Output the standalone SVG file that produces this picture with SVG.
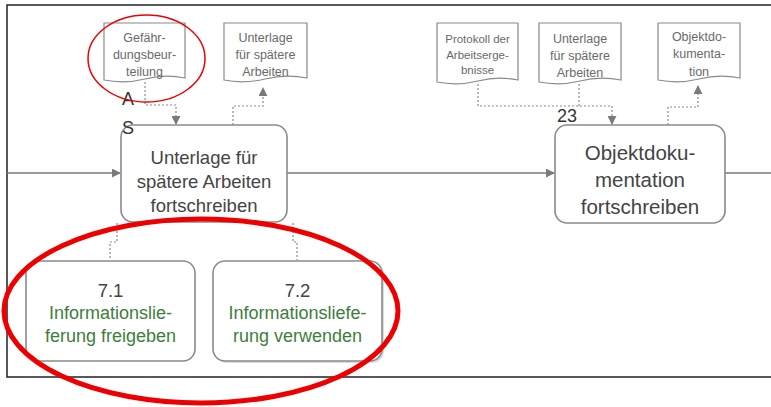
<svg xmlns="http://www.w3.org/2000/svg" width="771" height="407" viewBox="0 0 771 407">
<defs>
<style>
.doc{fill:#fff;stroke:#8a8a8a;stroke-width:1.2}
.dt{font-family:"Liberation Sans",Arial,sans-serif;font-size:12.5px;fill:#6a6a6a;text-anchor:middle}
.box{fill:#fff;stroke:#8a8a8a;stroke-width:1.6}
.bt{font-family:"Liberation Sans",Arial,sans-serif;font-size:18.5px;fill:#444;text-anchor:middle}
.gt{font-family:"Liberation Sans",Arial,sans-serif;font-size:18px;fill:#3d7d3d;text-anchor:middle}
.lbl{font-family:"Liberation Sans",Arial,sans-serif;font-size:18px;fill:#333}
.flow{fill:none;stroke:#7a7a7a;stroke-width:1.5}
.dot{fill:none;stroke:#8a8a8a;stroke-width:1.2;stroke-dasharray:2,2}
</style>
<marker id="ah" viewBox="0 0 10 10" refX="9" refY="5" markerWidth="9" markerHeight="9" markerUnits="userSpaceOnUse" orient="auto"><path d="M0,0 L10,5 L0,10 Z" fill="#7a7a7a"/></marker>
</defs>
<rect x="0" y="0" width="771" height="407" fill="#fff"/>
<path d="M771,5 H7 V377 H771" fill="none" stroke="#222" stroke-width="1.5"/>

<g id="connectors">
<path class="flow" d="M7,173 H120" marker-end="url(#ah)"/>
<path class="flow" d="M287,173 H554" marker-end="url(#ah)"/>
<path class="flow" d="M725,173 H771"/>
<path class="dot" d="M145,82 V105 H176 V124" marker-end="url(#ah)"/>
<path class="dot" d="M233,125 V106 H263 V88" marker-end="url(#ah)"/>
<path class="dot" d="M478,84 V106 H612 V124" marker-end="url(#ah)"/>
<path class="dot" d="M579,84 V106"/>
<path class="dot" d="M668,125 V107 H698 V86" marker-end="url(#ah)"/>
<path class="dot" d="M117,223 V242 H110 V260"/>
<path class="dot" d="M293,223 V242 H297 V260"/>
</g>

<g id="doc1">
<path class="doc" d="M104,23 H185 V78 Q165,74 145,79 T104,80 Z"/>
<text class="dt" x="144.5" y="42">Gefähr-</text>
<text class="dt" x="144.5" y="59">dungsbeur-</text>
<text class="dt" x="144.5" y="76">teilung</text>
</g>
<g id="doc2">
<path class="doc" d="M224,23 H307 V78 Q286,74 265,79 T224,80 Z"/>
<text class="dt" x="265.5" y="42">Unterlage</text>
<text class="dt" x="265.5" y="59">für spätere</text>
<text class="dt" x="265.5" y="76">Arbeiten</text>
</g>
<g id="doc3">
<path class="doc" d="M437,23 H518 V80 Q498,76 478,81 T437,82 Z"/>
<text class="dt" x="477.5" y="43" style="font-size:11.5px">Protokoll der</text>
<text class="dt" x="477.5" y="59" style="font-size:11.5px">Arbeitserge-</text>
<text class="dt" x="477.5" y="74" style="font-size:11.5px">bnisse</text>
</g>
<g id="doc4">
<path class="doc" d="M539,23 H621 V80 Q600,76 580,81 T539,82 Z"/>
<text class="dt" x="580" y="43">Unterlage</text>
<text class="dt" x="580" y="60">für spätere</text>
<text class="dt" x="580" y="77">Arbeiten</text>
</g>
<g id="doc5">
<path class="doc" d="M658,23 H740 V78 Q719,74 699,79 T658,80 Z"/>
<text class="dt" x="699" y="41">Objektdo-</text>
<text class="dt" x="699" y="58">kumenta-</text>
<text class="dt" x="699" y="76">tion</text>
</g>

<g id="box1">
<rect class="box" x="121" y="125" width="166" height="97" rx="12"/>
<text class="bt" x="204" y="164">Unterlage für</text>
<text class="bt" x="204" y="188">spätere Arbeiten</text>
<text class="bt" x="204" y="212">fortschreiben</text>
</g>
<g id="box2">
<rect class="box" x="555" y="125" width="170" height="98" rx="12"/>
<text class="bt" x="640" y="160" style="font-size:20.5px">Objektdoku-</text>
<text class="bt" x="640" y="187" style="font-size:20.5px">mentation</text>
<text class="bt" x="640" y="214" style="font-size:20.5px">fortschreiben</text>
</g>
<g id="box71">
<rect class="box" x="26" y="261" width="169" height="100" rx="12"/>
<text class="bt" x="110.5" y="297">7.1</text>
<text class="gt" x="110.5" y="319">Informationslie-</text>
<text class="gt" x="110.5" y="342">ferung freigeben</text>
</g>
<g id="box72">
<rect x="215" y="263" width="169" height="100" rx="12" fill="#ddd"/>
<rect class="box" x="213" y="261" width="169" height="100" rx="12"/>
<text class="bt" x="297.5" y="297">7.2</text>
<text class="gt" x="297.5" y="319">Informationsliefe-</text>
<text class="gt" x="297.5" y="342">rung verwenden</text>
</g>

<g id="labels">
<text class="lbl" x="122" y="105">A</text>
<text class="lbl" x="122" y="134">S</text>
<text class="lbl" x="557" y="122">23</text>
</g>

<g id="highlights">
<ellipse cx="146.5" cy="58.5" rx="58.5" ry="43.5" fill="none" stroke="#e00" stroke-width="1.5"/>
<ellipse cx="201" cy="311" rx="197" ry="92" fill="none" stroke="#e00" stroke-width="5"/>
</g>
</svg>
